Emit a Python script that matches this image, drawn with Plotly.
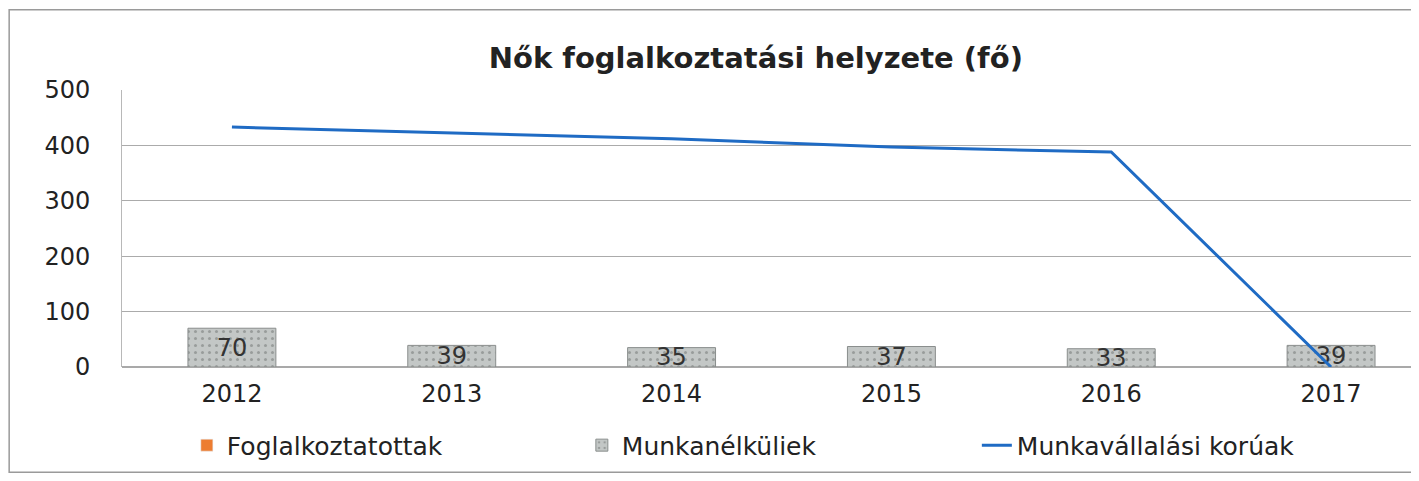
import plotly.graph_objects as go

# data
years = ["2012", "2013", "2014", "2015", "2016", "2017"]
foglalkoztatottak = [None, None, None, None, None, None]
munkanelkuliek = [70, 39, 35, 37, 33, 39]
munkavallalasi_koruak = [433, 423, 412, 397, 388, 0]
y_ticks = [0, 100, 200, 300, 400, 500]

font_family = "DejaVu Sans, sans-serif"

fig = go.Figure()

fig.add_trace(
    go.Bar(
        x=years,
        y=foglalkoztatottak,
        name="Foglalkoztatottak",
        marker_color="#ED7D31",
    )
)

fig.add_trace(
    go.Bar(
        x=years,
        y=munkanelkuliek,
        name="Munkanélküliek",
        width=0.40,
        marker=dict(
            color="#C3C7C6",
            line=dict(color="#8A8E8D", width=1),
            pattern=dict(shape=".", fgcolor="#6E7170", bgcolor="#C3C7C6", size=7, solidity=0.15),
        ),
        text=munkanelkuliek,
        textposition="inside",
        textangle=0,
        constraintext="none",
        insidetextanchor="middle",
        textfont=dict(size=24, color="#333333", family=font_family),
    )
)

fig.add_trace(
    go.Scatter(
        x=years,
        y=munkavallalasi_koruak,
        name="Munkavállalási korúak",
        mode="lines",
        line=dict(color="#1F6BC4", width=3),
    )
)

fig.update_layout(
    width=1411,
    height=473,
    barmode="overlay",
    paper_bgcolor="white",
    plot_bgcolor="white",
    margin=dict(l=114, r=0, t=82, b=114),
    title=dict(
        text="<b>Nők foglalkoztatási helyzete (fő)</b>",
        x=0.53,
        xanchor="center",
        y=0.895,
        yanchor="middle",
        font=dict(size=29, color="#222222", family=font_family),
    ),
    font=dict(family=font_family, color="#222222"),
    showlegend=True,
    legend=dict(
        orientation="h",
        x=0.05,
        xanchor="left",
        y=-0.2,
        yanchor="top",
        font=dict(size=25, color="#222222"),
        traceorder="normal",
        entrywidth=350,
    ),
    xaxis=dict(
        range=[-0.5, 5.4],
        showgrid=False,
        showline=False,
        ticks="",
        tickfont=dict(size=24, color="#222222"),
        ticklabelstandoff=10,
    ),
    yaxis=dict(
        range=[0, 500],
        tickvals=y_ticks,
        showgrid=True,
        gridcolor="#ABABAB",
        gridwidth=1,
        zeroline=True,
        zerolinecolor="#A9A9A9",
        showline=True,
        linecolor="#B8B8B8",
        tickfont=dict(size=24, color="#222222"),
        ticklabelstandoff=26,
    ),
    shapes=[
        dict(
            type="rect",
            xref="paper",
            yref="paper",
            x0=-0.087,
            x1=0.9985,
            y0=-0.38,
            y1=1.29,
            line=dict(color="#9A9A9A", width=1.5),
        )
    ],
)

fig.write_html("out.html")
